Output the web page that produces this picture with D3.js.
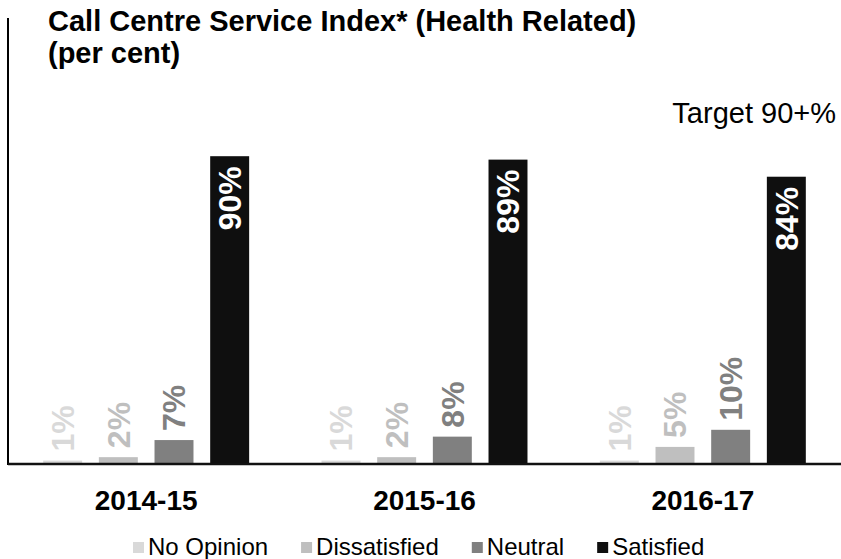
<!DOCTYPE html>
<html>
<head>
<meta charset="utf-8">
<script src="https://cdn.jsdelivr.net/npm/d3@7"></script>
<style>
  html, body { margin: 0; padding: 0; background: #fff; }
  svg { display: block; font-family: "Liberation Sans", Arial, sans-serif; }
</style>
</head>
<body>
<svg id="chart" width="841" height="559"></svg>
<script>
// Survey years and response categories
const years = ["2014-15", "2015-16", "2016-17"];
const responses = ["No Opinion", "Dissatisfied", "Neutral", "Satisfied"];

// Percentage of callers per response, one array per year
const values2014 = [1, 2, 7, 90];
const values2015 = [1, 2, 8, 89];
const values2016 = [1, 5, 10, 84];
const valuesByYear = [values2014, values2015, values2016];

const colours = ["#d9d9d9", "#bfbfbf", "#808080", "#0f0f0f"];
const labelColours = ["#d9d9d9", "#bfbfbf", "#808080", "#ffffff"];

const titleLines = ["Call Centre Service Index* (Health Related)", "(per cent)"];
const targetText = "Target 90+%";

const svg = d3.select("#chart");
const W = 841, H = 559;
const plot = { left: 8, right: 842, top: 18, bottom: 464 };

const x0 = d3.scaleBand().domain(years).range([7, 842]).paddingInner(0).paddingOuter(0);
const x1 = d3.scaleBand().domain(responses).range([0, x0.bandwidth()])
  .paddingInner(0.3).paddingOuter(0.65);
const y = d3.scaleLinear().domain([0, 100]).range([plot.bottom, 122]);
const colour = d3.scaleOrdinal().domain(responses).range(colours);
const labelColour = d3.scaleOrdinal().domain(responses).range(labelColours);

const rows = years.map((yr, i) => ({
  year: yr,
  items: responses.map((r, j) => ({ response: r, value: valuesByYear[i][j] }))
}));

// Bars
const groups = svg.append("g").selectAll("g").data(rows).join("g")
  .attr("transform", d => `translate(${x0(d.year)},0)`);

groups.selectAll("rect").data(d => d.items).join("rect")
  .attr("x", d => x1(d.response))
  .attr("y", d => y(d.value))
  .attr("width", x1.bandwidth())
  .attr("height", d => y(0) - y(d.value))
  .attr("fill", d => colour(d.response));

// Value labels, rotated; the tall bar carries its label inside
groups.selectAll("text").data(d => d.items).join("text")
  .attr("transform", d => {
    const cx = x1(d.response) + x1.bandwidth() / 2;
    const inside = d.response === "Satisfied";
    const ty = inside ? y(d.value) + 10 : y(d.value) - 9;
    return `translate(${cx},${ty}) rotate(-90)`;
  })
  .attr("text-anchor", d => d.response === "Satisfied" ? "end" : "start")
  .attr("dy", "0.35em")
  .attr("font-size", 32)
  .attr("font-weight", "bold")
  .attr("fill", d => labelColour(d.response))
  .text(d => d.value + "%");

// Axis lines
svg.append("line")
  .attr("x1", plot.left).attr("x2", plot.left)
  .attr("y1", plot.top).attr("y2", plot.bottom + 1)
  .attr("stroke", "#000").attr("stroke-width", 2);

const xAxis = d3.axisBottom(x0).tickSize(0).tickPadding(0);
const xg = svg.append("g").attr("transform", `translate(0,${plot.bottom})`).call(xAxis);
xg.select(".domain").attr("stroke", "#111").attr("stroke-width", 2.5)
  .attr("d", `M${plot.left},0H${W}`);
xg.selectAll(".tick text")
  .attr("font-family", "Liberation Sans, Arial, sans-serif")
  .attr("font-size", 28).attr("font-weight", "bold").attr("fill", "#000")
  .attr("dy", null).attr("y", 46);

// Title
const title = svg.append("text").attr("x", 48).attr("font-size", 29).attr("font-weight", "bold").attr("fill", "#000");
title.selectAll("tspan").data(titleLines).join("tspan")
  .attr("x", 48).attr("y", (d, i) => 31 + i * 32).text(d => d);

// Target note
svg.append("text").attr("x", 836).attr("y", 123).attr("text-anchor", "end")
  .attr("font-size", 29).attr("fill", "#000").text(targetText);

// Legend
const legend = svg.append("g");
const items = legend.selectAll("g").data(responses).join("g");
items.append("rect").attr("width", 11).attr("height", 11).attr("y", -13)
  .attr("fill", d => colour(d));
items.append("text").attr("x", 15).attr("font-size", 24).attr("fill", "#000").text(d => d);
let cursor = 0;
items.each(function () {
  const g = d3.select(this);
  g.attr("transform", `translate(${cursor},555)`);
  cursor += 15 + g.select("text").node().getComputedTextLength() + 33;
});
const legendWidth = cursor - 33;
legend.attr("transform", `translate(${Math.round(419 - legendWidth / 2)},0)`);
</script>
</body>
</html>
